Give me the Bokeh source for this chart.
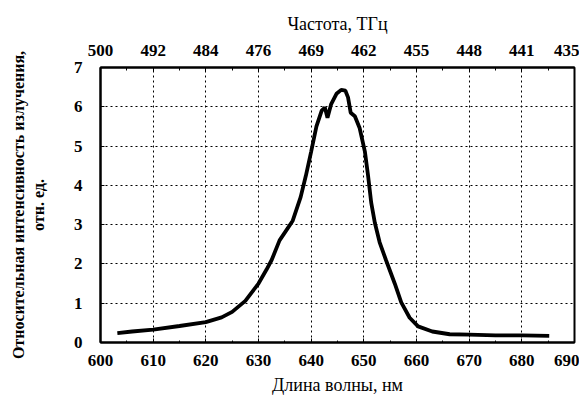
from bokeh.plotting import figure
from bokeh.models import LinearAxis, FixedTicker, Range1d
from bokeh.embed import file_html
from bokeh.resources import INLINE

# Spectrum
wavelength = [603.2, 606, 610, 615, 620, 623, 625, 627.5, 630, 631.5, 632.5, 634,
              635.5, 636.5, 638, 639, 640, 641, 642, 642.6, 643.1, 643.8, 644.8,
              645.7, 646.5, 647, 647.5, 648.3, 649.2, 650.2, 650.8, 651.4, 652.1,
              653, 654.2, 655.9, 657.1, 658.7, 660.3, 663, 666.3, 670, 675, 680, 685.2]
intensity = [0.24, 0.28, 0.33, 0.42, 0.52, 0.64, 0.78, 1.06, 1.5, 1.85, 2.1, 2.6,
             2.9, 3.1, 3.7, 4.25, 4.86, 5.5, 5.9, 5.98, 5.72, 6.07, 6.33,
             6.43, 6.41, 6.24, 5.85, 5.76, 5.46, 4.86, 4.25, 3.56, 3.04,
             2.55, 2.1, 1.49, 1.02, 0.63, 0.41, 0.28, 0.21, 0.2, 0.18, 0.18, 0.17]

wl_ticks = [600, 610, 620, 630, 640, 650, 660, 670, 680, 690]
wl_minor = [605, 615, 625, 635, 645, 655, 665, 675, 685]
freq_labels = ["500", "492", "484", "476", "469", "462", "455", "448", "441", "435"]
y_ticks = [0, 1, 2, 3, 4, 5, 6, 7]

FONT = "Liberation Serif"

p = figure(width=579, height=397, output_backend="svg", toolbar_location=None,
           x_range=Range1d(600, 690), y_range=Range1d(0, 7),
           min_border_left=100, min_border_top=67)

p.xgrid.grid_line_color = "black"
p.xgrid.grid_line_dash = "2 3"
p.ygrid.grid_line_color = "black"
p.ygrid.grid_line_dash = "2 3"
p.outline_line_color = "black"
p.outline_line_width = 2

p.line(wavelength, intensity, line_color="black", line_width=3.8)

for ax in (p.xaxis[0], p.yaxis[0]):
    ax.major_label_text_font = FONT
    ax.major_label_text_font_size = "17px"
    ax.major_label_text_font_style = "bold"
    ax.major_label_text_color = "black"
    ax.axis_label_text_font = FONT
    ax.axis_label_text_color = "black"
    ax.axis_line_color = "black"
    ax.axis_line_width = 2
    ax.major_tick_in = 4
    ax.major_tick_out = 0
    ax.minor_tick_in = 2
    ax.minor_tick_out = 0
    ax.major_tick_line_color = "black"
    ax.minor_tick_line_color = "black"

p.xaxis[0].ticker = FixedTicker(ticks=wl_ticks, minor_ticks=wl_minor)
p.xaxis[0].axis_label = "Длина волны, нм"
p.xaxis[0].axis_label_text_font_size = "18px"
p.xaxis[0].axis_label_text_font_style = "normal"
p.xaxis[0].axis_label_standoff = 6
p.xaxis[0].major_label_standoff = 12

p.yaxis[0].ticker = FixedTicker(ticks=y_ticks, minor_ticks=[])
p.yaxis[0].axis_label = "отн. ед."
p.yaxis[0].axis_label_text_font_size = "16px"
p.yaxis[0].axis_label_text_font_style = "bold"
p.yaxis[0].axis_label_standoff = 24
p.yaxis[0].major_label_standoff = 18

outer = LinearAxis(ticker=FixedTicker(ticks=[], minor_ticks=[]),
                   axis_label="Относительная интенсивность излучения,")
outer.axis_line_color = None
outer.major_tick_line_color = None
outer.minor_tick_line_color = None
outer.axis_label_text_font = FONT
outer.axis_label_text_font_size = "16px"
outer.axis_label_text_font_style = "bold"
outer.axis_label_text_color = "black"
outer.axis_label_standoff = 0
p.add_layout(outer, "left")

top = LinearAxis(ticker=FixedTicker(ticks=wl_ticks, minor_ticks=wl_minor),
                 major_label_overrides={t: l for t, l in zip(wl_ticks, freq_labels)},
                 axis_label="Частота, ТГц")
top.major_label_text_font = FONT
top.major_label_text_font_size = "17px"
top.major_label_text_font_style = "bold"
top.major_label_text_color = "black"
top.axis_label_text_font = FONT
top.axis_label_text_font_size = "18px"
top.axis_label_text_font_style = "normal"
top.axis_label_text_color = "black"
top.axis_label_standoff = 8
top.major_label_standoff = 12
top.axis_line_color = "black"
top.axis_line_width = 2
top.major_tick_in = 4
top.major_tick_out = 0
top.minor_tick_in = 3
top.minor_tick_out = 0
top.major_tick_line_color = "black"
top.minor_tick_line_color = "black"
p.add_layout(top, "above")

open("out.html", "w").write(file_html(p, INLINE))
